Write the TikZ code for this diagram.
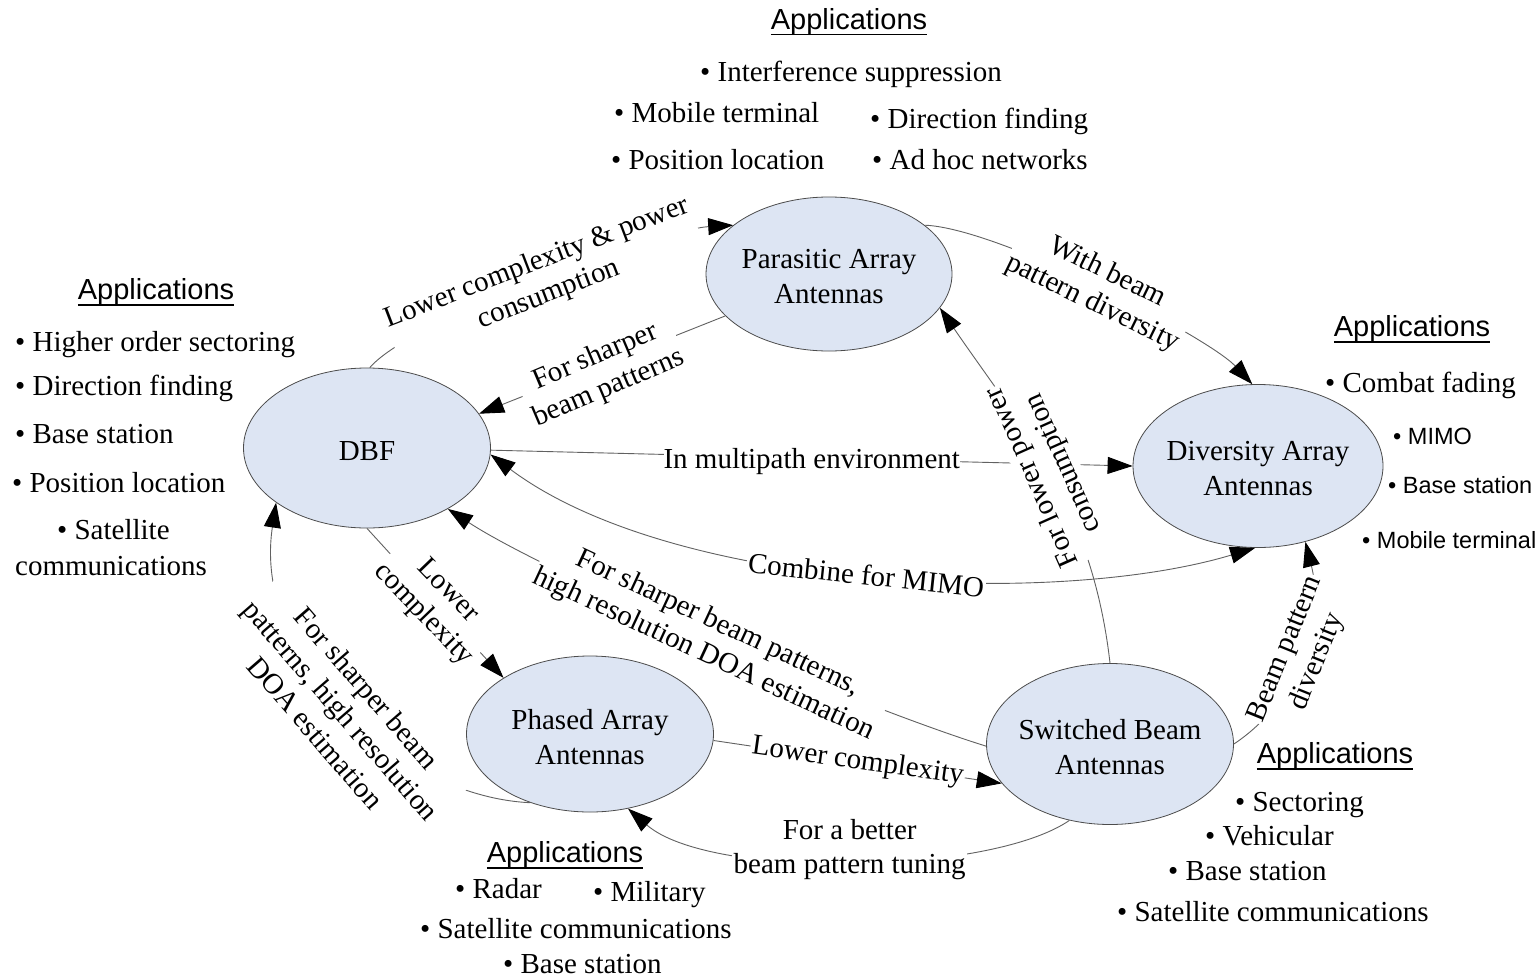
\documentclass[tikz,border=0pt]{standalone}
\usepackage{fontspec}
\setmainfont{Liberation Serif}
\newfontfamily\arialfam{Liberation Sans}
\usetikzlibrary{shapes.geometric,arrows.meta}
\definecolor{ellfill}{RGB}{221,229,243}
% underlined heading word with a thicker rule
\newcommand\ulword[1]{\setbox0\hbox{#1}\rlap{\rule[-6pt]{\wd0}{1.8pt}}\box0}

\begin{document}
\begin{tikzpicture}[x=1pt,y=-1pt,
  font=\fontsize{29pt}{34pt}\selectfont,
  >={Triangle[length=25pt,width=17pt,color=black]},
  antenna/.style={ellipse, draw=black!70, line width=0.8pt, fill=ellfill, inner sep=0pt},
  antext/.style={align=center, font=\fontsize{29pt}{35pt}\selectfont, inner sep=0pt, yshift=-3pt},
  link/.style={draw=black!62, line width=0.9pt},
  lbl/.style={fill=white, inner sep=1.5pt, align=center},
  apphead/.style={font=\arialfam\fontsize{29pt}{34pt}\selectfont, inner sep=0pt},
  appitem/.style={anchor=west, inner sep=0pt, text height=20pt, text depth=6pt},
  appsmall/.style={anchor=west, inner sep=0pt, font=\arialfam\fontsize{23.5pt}{28pt}\selectfont, text height=17pt, text depth=5pt}]

\fill[white] (0,0) rectangle (1539,977);
\useasboundingbox (0,0) rectangle (1539,977);

% antenna types
\node[antenna, minimum width=246pt, minimum height=154pt,
      label={[antext]center:{Parasitic Array\\Antennas}}] (par) at (829,274) {};
\node[antenna, minimum width=247pt, minimum height=160pt,
      label={[antext]center:{DBF}}] (dbf) at (367,448) {};
\node[antenna, minimum width=250pt, minimum height=163pt,
      label={[antext]center:{Diversity Array\\Antennas}}] (div) at (1258,466) {};
\node[antenna, minimum width=247pt, minimum height=156pt,
      label={[antext]center:{Phased Array\\Antennas}}] (pha) at (590,734) {};
\node[antenna, minimum width=247pt, minimum height=161pt,
      label={[antext]center:{Switched Beam\\Antennas}}] (swb) at (1110,744) {};

% relations between the antenna types
\draw[link,->] (dbf.-1) -- (div.180)
  node[lbl,pos=0.5,inner sep=0pt,yshift=-3pt] (c4) {In multipath environment};
\draw[link,->] (swb.90) .. controls (1092,505) and (1020,425) .. (par.-17)
  node[lbl,pos=0.5,rotate=114] (c6) {For lower power\\consumption};
\draw[link,<->] (dbf.-3) .. controls (673,591) and (1055,608) .. (div.268)
  node[lbl,pos=0.5,rotate=-6] (c5) {Combine for MIMO};
\draw[link,->] (dbf.88) .. controls (413,317) and (667,229) .. (par.153)
  node[lbl,pos=0.5,rotate=21] (c1) {Lower complexity \& power\\consumption};
\draw[link,->] (par.202) -- (dbf.17)
  node[lbl,pos=0.5,yshift=-8pt,rotate=23] (c2) {For sharper\\beam patterns};
\draw[link,->] (par.27) .. controls (999,228) and (1208,337) .. (div.94)
  node[lbl,pos=0.5,rotate=-26] (c3) {With beam\\pattern diversity};
\draw[link,->] (swb.181) .. controls (863,708) and (554,578) .. (dbf.-37)
  node[lbl,pos=0.5,rotate=-25] (c7) {For sharper beam patterns,\\high resolution DOA estimation};
\draw[link,->] (dbf.270) -- (pha.147)
  node[lbl,pos=0.5,rotate=-46] (c8) {Lower\\complexity};
\draw[link,->] (pha.229) .. controls (400,797) and (252,662) .. (dbf.211)
  node[lbl,pos=0.5,xshift=-4pt,rotate=-49] (c9) {For sharper beam\\patterns, high resolution\\DOA estimation};
\draw[link,->] (pha.-3) -- (swb.200)
  node[lbl,pos=0.5,rotate=-8] (c10) {Lower complexity};
\draw[link,->] (swb.242) .. controls (990,875) and (710,880) .. (pha.297)
  node[lbl,pos=0.5,yshift=12pt] (c11) {For a better\\beam pattern tuning};
\draw[link,->] (swb.0) .. controls (1300,700) and (1325,620) .. (div.-58)
  node[lbl,pos=0.5,rotate=68] (c12) {Beam pattern\\diversity};

% applications: parasitic array
\node[apphead] (hpar) at (849,22) {\ulword{Applications}};
\node[appitem] (p1) at (700,74) {• Interference suppression};
\node[appitem] (p2) at (614,115) {• Mobile terminal};
\node[appitem] (p3) at (870,121) {• Direction finding};
\node[appitem] (p4) at (611,162) {• Position location};
\node[appitem] (p5) at (872,162) {• Ad hoc networks};

% applications: DBF
\node[apphead] (hdbf) at (156,292) {\ulword{Applications}};
\node[appitem] (d1) at (15,344) {• Higher order sectoring};
\node[appitem] (d2) at (15,388) {• Direction finding};
\node[appitem] (d3) at (15,436) {• Base station};
\node[appitem] (d4) at (12,485) {• Position location};
\node[appitem] (d5) at (57,532) {• Satellite};
\node[appitem] (d6) at (15,568) {communications};

% applications: diversity array
\node[apphead] (hdiv) at (1412,329) {\ulword{Applications}};
\node[appitem] (v1) at (1325,385) {• Combat fading};
\node[appsmall] (v2) at (1393,438) {• MIMO};
\node[appsmall] (v3) at (1388,487) {• Base station};
\node[appsmall] (v4) at (1362,542) {• Mobile terminal};

% applications: switched beam
\node[apphead] (hswb) at (1335,756) {\ulword{Applications}};
\node[appitem] (s1) at (1235,804) {• Sectoring};
\node[appitem] (s2) at (1205,838) {• Vehicular};
\node[appitem] (s3) at (1168,873) {• Base station};
\node[appitem] (s4) at (1117,914) {• Satellite communications};

% applications: phased array
\node[apphead] (hpha) at (565,855) {\ulword{Applications}};
\node[appitem] (h1) at (455,891) {• Radar};
\node[appitem] (h2) at (593,894) {• Military};
\node[appitem] (h3) at (420,931) {• Satellite communications};
\node[appitem] (h4) at (503,966) {• Base station};
\end{tikzpicture}
\end{document}
